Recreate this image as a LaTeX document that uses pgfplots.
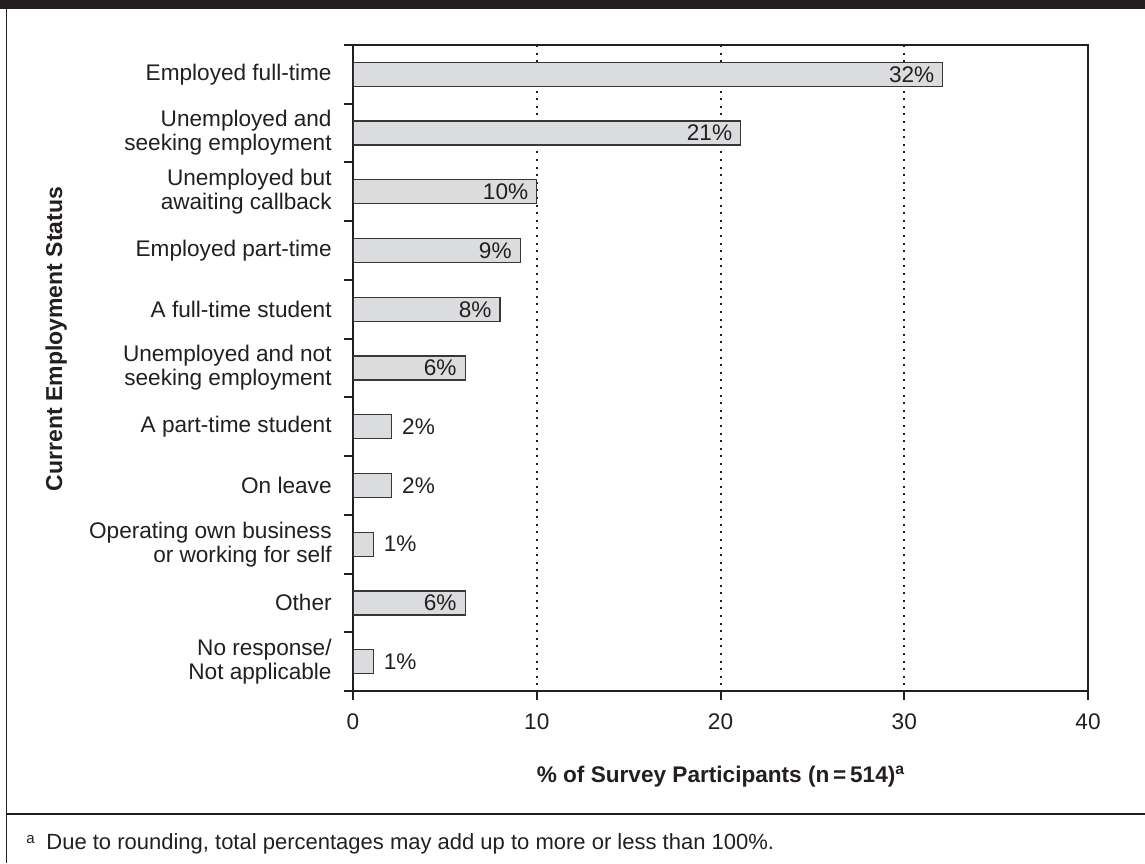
\documentclass[border=0pt]{standalone}
\usepackage{fontspec}
\setmainfont{Liberation Sans}
\usepackage{pgfplots}
\pgfplotsset{compat=1.18}
\definecolor{ink}{RGB}{35,31,32}
\definecolor{barfill}{RGB}{219,220,222}
\definecolor{bardraw}{RGB}{55,55,55}
\newcommand{\lab}{\fontsize{11.3bp}{12bp}\selectfont}
\begin{document}
\begin{tikzpicture}
\begin{scope}[x=0.5bp,y=0.5bp]
\path[use as bounding box] (0,0) rectangle (1145,863);
\fill[ink] (0,854) rectangle (1145,863);
\draw[ink, line width=0.8bp] (6.5,0) -- (6.5,854);
\draw[ink, line width=1bp] (6.5,49) -- (1145,49);
\end{scope}
\begin{axis}[
  at={(176.5bp,86bp)}, anchor=south west,
  scale only axis, width=367.5bp, height=323bp,
  xbar, bar width=12bp, bar shift=0pt,
  xmin=0, xmax=40, ymin=-0.5, ymax=10.5, y dir=reverse,
  axis line style={ink, line width=1bp},
  every tick/.style={ink, line width=1bp},
  tick align=outside, major tick length=4.5bp,
  xtick={0,10,20,30,40}, xtick pos=bottom,
  ytick={-0.5,0.5,1.5,2.5,3.5,4.5,5.5,6.5,7.5,8.5,9.5,10.5}, ytick pos=left, yticklabels={},
  extra y ticks={0,1,2,3,4,5,6,7,8,9,10},
  extra y tick labels={Employed full-time, {Unemployed and\\seeking employment}, {Unemployed but\\awaiting callback}, Employed part-time, A full-time student, {Unemployed and not\\seeking employment}, A part-time student, On leave, {Operating own business\\or working for self}, Other, {No response/\\Not applicable}},
  extra y tick style={major tick length=0pt, yticklabel style={align=right, inner sep=0pt, xshift=-10.5bp, font=\lab, text=ink}},
  xticklabel style={font=\lab, text=ink, yshift=-3.5bp},
  /pgf/number format/assume math mode=true,
  xmajorgrids, major grid style={ink, line width=1bp, dash pattern=on 1bp off 2.8bp},
  point meta=explicit symbolic,
]
\addplot[fill=barfill, draw=bardraw, line width=0.6bp, nodes near coords,
  nodes near coords style={anchor=east, inner sep=0pt, xshift=-4bp, font=\lab, text=ink}]
  coordinates {(32.1,0) [32\%] (21.1,1) [21\%] (10.0,2) [10\%] (9.1,3) [9\%] (8.0,4) [8\%] (6.1,5) [6\%] (6.1,9) [6\%]};
\addplot[fill=barfill, draw=bardraw, line width=0.6bp, nodes near coords,
  nodes near coords style={anchor=west, inner sep=0pt, xshift=5bp, font=\lab, text=ink}]
  coordinates {(2.1,6) [2\%] (2.1,7) [2\%] (1.1,8) [1\%] (1.1,10) [1\%]};
\end{axis}
\begin{scope}[x=0.5bp,y=0.5bp]
\node[anchor=base, rotate=90, font=\bfseries\fontsize{11.5bp}{12bp}\selectfont, text=ink, inner sep=0pt] at (62,524) {Current Employment Status};
\node[anchor=base, font=\bfseries\fontsize{11.3bp}{12bp}\selectfont, text=ink, inner sep=0pt] at (721,81) {\% of Survey Participants (n\,=\,514)\textsuperscript{a}};
\node[anchor=base west, font=\fontsize{11bp}{12bp}\selectfont, text=ink, inner sep=0pt] at (46,14) {Due to rounding, total percentages may add up to more or less than 100\%.};
\node[anchor=base west, font=\fontsize{7.5bp}{9bp}\selectfont, text=ink, inner sep=0pt] at (26,20) {a};
\end{scope}
\end{tikzpicture}
\end{document}
